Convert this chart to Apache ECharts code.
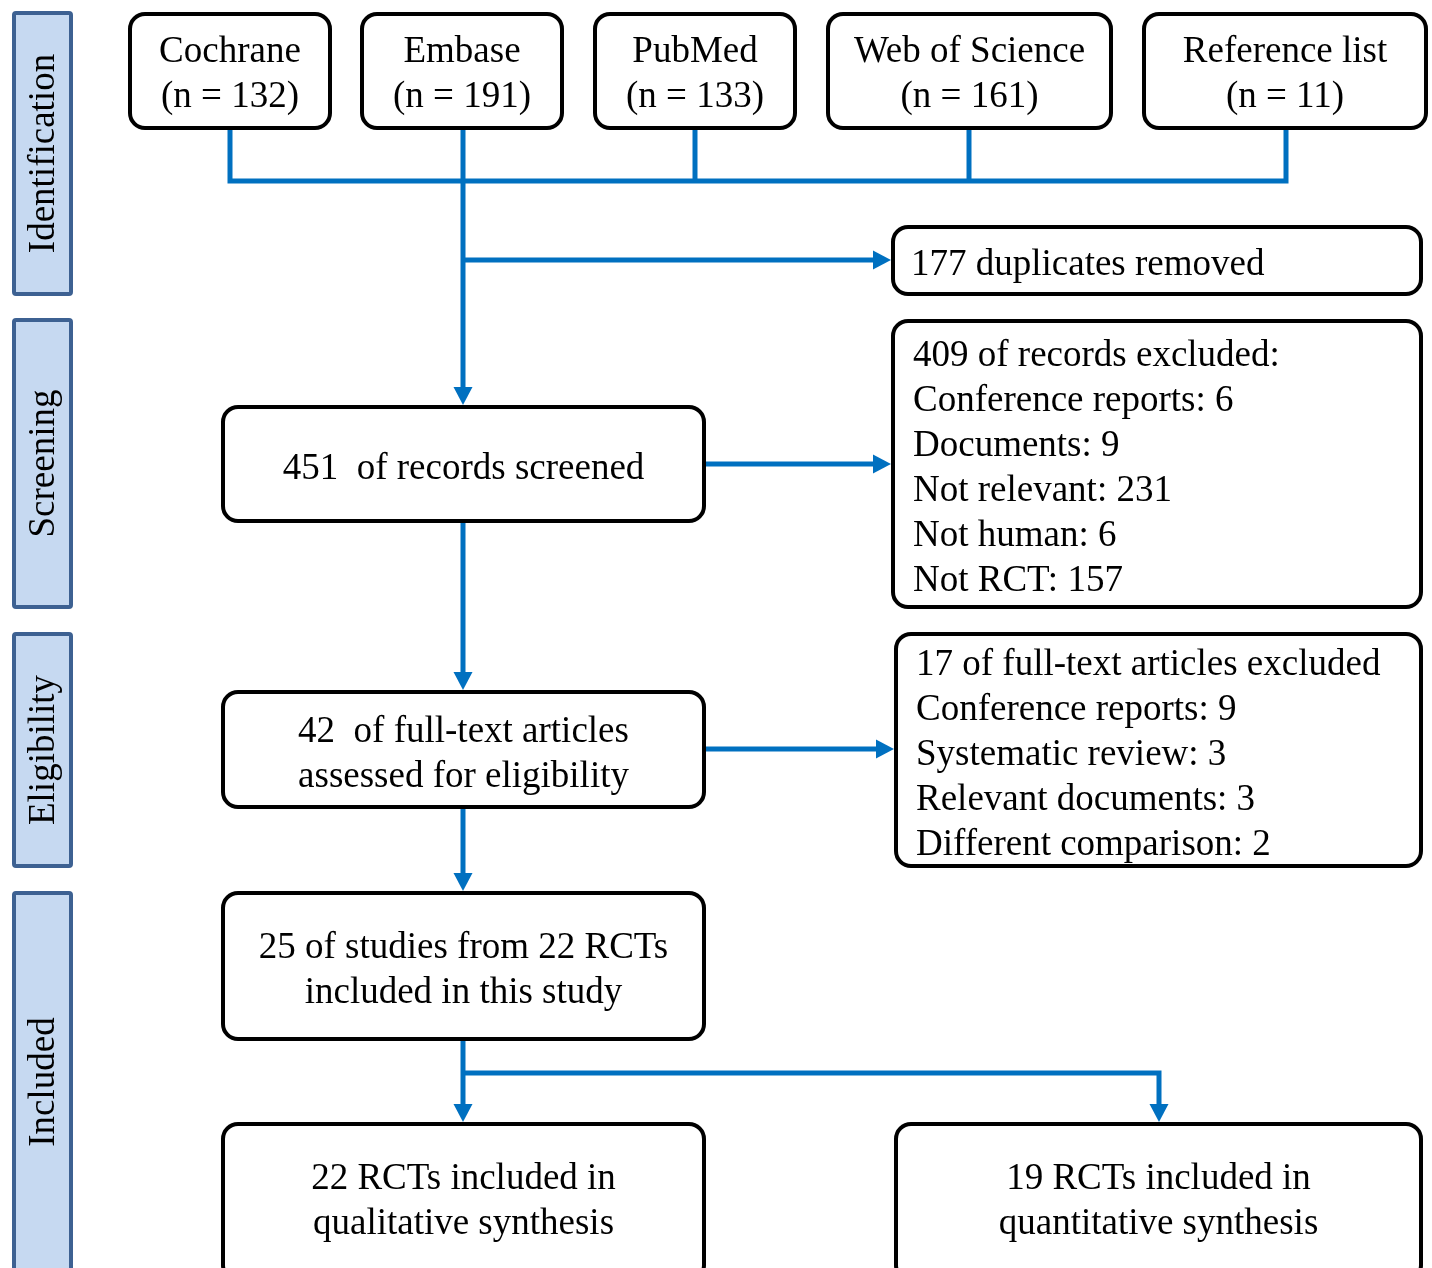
<!DOCTYPE html>
<html>
<head>
    <meta charset="utf-8">
    <title>PRISMA flow diagram</title>
    <script src="https://cdn.jsdelivr.net/npm/echarts@6/dist/echarts.min.js"></script>
    <style>
        html, body { margin: 0; padding: 0; background: #ffffff; }
        #flowChart { width: 1432px; height: 1268px; }
    </style>
</head>
<body>
<div id="flowChart"></div>
<script>
    // 数据
    const sourceNames = ['Cochrane', 'Embase', 'PubMed', 'Web of Science', 'Reference list'];
    const sourceCounts = [132, 191, 133, 161, 11];
    const phaseNames = ['Identification', 'Screening', 'Eligibility', 'Included'];
    const duplicatesRemoved = 177;
    const recordsScreened = 451;
    const recordsExcluded = 409;
    const screenReasons = ['Conference reports', 'Documents', 'Not relevant', 'Not human', 'Not RCT'];
    const screenReasonCounts = [6, 9, 231, 6, 157];
    const fullTextAssessed = 42;
    const fullTextExcluded = 17;
    const fullTextReasons = ['Conference reports', 'Systematic review', 'Relevant documents', 'Different comparison'];
    const fullTextReasonCounts = [9, 3, 3, 2];
    const studiesIncluded = 25;
    const rctsIncluded = 22;
    const qualitativeRcts = 22;
    const quantitativeRcts = 19;

    // 布局 (坐标轴单位)
    const sourceRects = [[128, 12, 332, 130], [360, 12, 564, 130], [593, 12, 797, 130], [826, 12, 1113, 130], [1142, 12, 1428, 130]];
    const phaseRects = [[12, 11, 73, 296], [12, 318, 73, 609], [12, 632, 73, 868], [12, 891, 73, 1273]];
    const dupRect = [891, 225, 1423, 296];
    const excludedRect = [891, 319, 1423, 609];
    const screenedRect = [221, 405, 706, 523];
    const eligibleRect = [221, 690, 706, 809];
    const excluded2Rect = [894, 632, 1423, 868];
    const includedRect = [221, 891, 706, 1041];
    const qualRect = [221, 1122, 706, 1282];
    const quantRect = [894, 1122, 1423, 1282];

    const FONT = '37px "Liberation Serif", "Times New Roman", serif';
    const BLUE = '#0070C0';

    let nodes = [];
    sourceNames.forEach(function (name, i) {
        nodes.push({rect: sourceRects[i], text: name + '\n(n = ' + sourceCounts[i] + ')', ty: 75});
    });
    phaseNames.forEach(function (name, i) {
        nodes.push({rect: phaseRects[i], text: name, phase: true});
    });
    nodes.push({rect: dupRect, text: duplicatesRemoved + ' duplicates removed', tx: 911, ty: 265});
    nodes.push({
        rect: excludedRect, tx: 913, ty: 469,
        text: [recordsExcluded + ' of records excluded:'].concat(screenReasons.map(function (r, i) {
            return r + ': ' + screenReasonCounts[i];
        })).join('\n')
    });
    nodes.push({rect: screenedRect, text: recordsScreened + '  of records screened', ty: 469});
    nodes.push({rect: eligibleRect, text: fullTextAssessed + '  of full-text articles\nassessed for eligibility', ty: 755});
    nodes.push({
        rect: excluded2Rect, tx: 916, ty: 755,
        text: [fullTextExcluded + ' of full-text articles excluded'].concat(fullTextReasons.map(function (r, i) {
            return r + ': ' + fullTextReasonCounts[i];
        })).join('\n')
    });
    nodes.push({rect: includedRect, text: studiesIncluded + ' of studies from ' + rctsIncluded + ' RCTs\nincluded in this study', ty: 971});
    nodes.push({rect: qualRect, text: qualitativeRcts + ' RCTs included in\nqualitative synthesis', ty: 1202});
    nodes.push({rect: quantRect, text: quantitativeRcts + ' RCTs included in\nquantitative synthesis', ty: 1202});

    // 连接线
    const connectors = [
        {pts: [[230, 130], [230, 181], [1286, 181], [1286, 130]]},
        {pts: [[695, 130], [695, 181]]},
        {pts: [[969, 130], [969, 181]]},
        {pts: [[463, 130], [463, 405]], arrow: true},
        {pts: [[463, 260], [891, 260]], arrow: true},
        {pts: [[706, 464], [891, 464]], arrow: true},
        {pts: [[463, 523], [463, 690]], arrow: true},
        {pts: [[706, 749], [894, 749]], arrow: true},
        {pts: [[463, 809], [463, 891]], arrow: true},
        {pts: [[463, 1041], [463, 1122]], arrow: true},
        {pts: [[463, 1073], [1159, 1073], [1159, 1122]], arrow: true}
    ];

    function renderNode(params, api) {
        const n = nodes[api.value(2)];
        const p0 = api.coord([n.rect[0], n.rect[1]]);
        const p1 = api.coord([n.rect[2], n.rect[3]]);
        const x = p0[0], y = Math.min(p0[1], p1[1]);
        const w = p1[0] - p0[0], h = Math.abs(p1[1] - p0[1]);
        const lw = 4;
        const children = [{
            type: 'rect',
            shape: {x: x + lw / 2, y: y + lw / 2, width: w - lw, height: h - lw, r: n.phase ? 2 : 15},
            style: {
                fill: n.phase ? '#C6D9F1' : '#ffffff',
                stroke: n.phase ? '#3D6192' : '#000000',
                lineWidth: lw
            }
        }];
        if (n.phase) {
            children.push({
                type: 'text',
                x: x + w / 2 + 2,
                y: y + h / 2,
                rotation: Math.PI / 2,
                style: {text: n.text, font: FONT, fill: '#000', align: 'center', verticalAlign: 'middle'}
            });
        } else {
            const left = n.tx !== undefined;
            const tp = api.coord([left ? n.tx : (n.rect[0] + n.rect[2]) / 2, n.ty]);
            children.push({
                type: 'text',
                x: tp[0],
                y: tp[1],
                style: {
                    text: n.text, font: FONT, fill: '#000', lineHeight: 45,
                    align: left ? 'left' : 'center', verticalAlign: 'middle'
                }
            });
        }
        return {type: 'group', children: children};
    }

    function renderConnector(params, api) {
        const c = connectors[api.value(2)];
        const pts = c.pts.map(function (p) { return api.coord(p); });
        const children = [];
        if (c.arrow) {
            const tip = pts[pts.length - 1];
            const prev = pts[pts.length - 2];
            const dx = tip[0] - prev[0], dy = tip[1] - prev[1];
            const len = Math.sqrt(dx * dx + dy * dy);
            const ux = dx / len, uy = dy / len;
            const base = [tip[0] - ux * 18, tip[1] - uy * 18];
            pts[pts.length - 1] = base;
            children.push({
                type: 'polygon',
                shape: {points: [tip, [base[0] - uy * 9.5, base[1] + ux * 9.5], [base[0] + uy * 9.5, base[1] - ux * 9.5]]},
                style: {fill: BLUE}
            });
        }
        children.unshift({
            type: 'polyline',
            shape: {points: pts},
            style: {stroke: BLUE, lineWidth: 5, fill: null, lineJoin: 'miter', lineCap: 'butt'}
        });
        return {type: 'group', children: children};
    }

    const chart = echarts.init(document.getElementById('flowChart'), null, {renderer: 'canvas'});
    const option = {
        backgroundColor: '#ffffff',
        animation: false,
        grid: {left: 0, right: 0, top: 0, bottom: 0},
        xAxis: {type: 'value', min: 0, max: 1432, show: false},
        yAxis: {type: 'value', min: 0, max: 1268, inverse: true, show: false},
        series: [
            {
                type: 'custom',
                name: 'connectors',
                clip: false,
                silent: true,
                encode: {x: 0, y: 1},
                data: connectors.map(function (c, i) { return [c.pts[0][0], c.pts[0][1], i]; }),
                renderItem: renderConnector
            },
            {
                type: 'custom',
                name: 'boxes',
                clip: false,
                silent: true,
                encode: {x: 0, y: 1},
                data: nodes.map(function (n, i) { return [n.rect[0], n.rect[1], i]; }),
                renderItem: renderNode
            }
        ]
    };
    chart.setOption(option);
</script>
</body>
</html>
